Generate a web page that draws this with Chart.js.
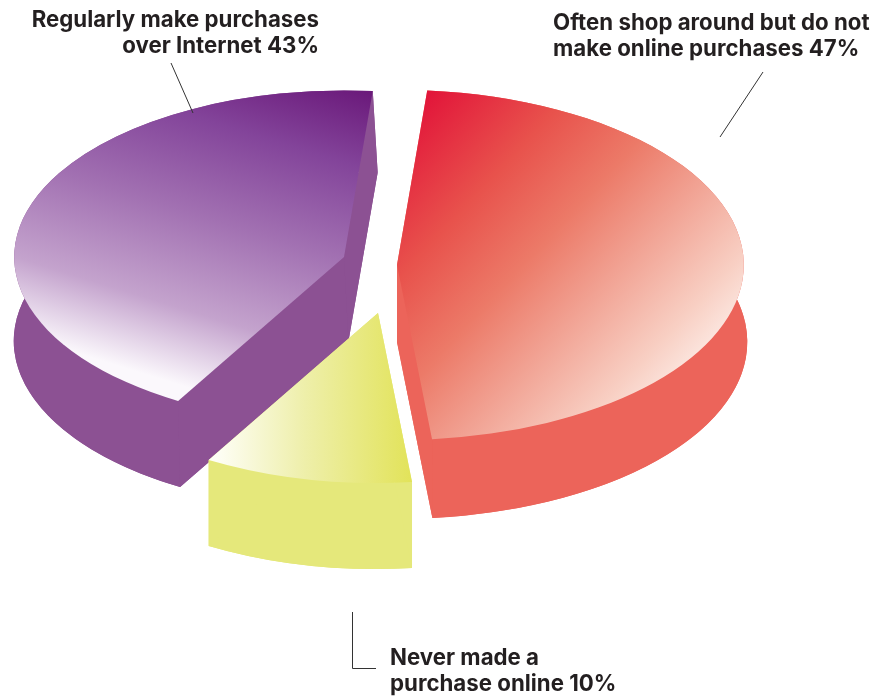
<!DOCTYPE html>
<html>
<head>
<meta charset="utf-8">
<script src="https://cdn.jsdelivr.net/npm/chart.js@4.4.0/dist/chart.umd.min.js"></script>
<style>
  html, body { margin: 0; padding: 0; background: #ffffff; }
  canvas { display: block; }
</style>
</head>
<body>
<canvas id="chart" width="885" height="696"></canvas>
<script>
// ---- data ----
const categories = [
  'Often shop around but do not make online purchases',
  'Never made a purchase online',
  'Regularly make purchases over Internet'
];
const shares = [47, 10, 43];
// label text broken into lines; the share is appended to the last line
const labelLines = [
  ['Often shop around but do not', 'make online purchases'],
  ['Never made a', 'purchase online'],
  ['Regularly make purchases', 'over Internet']
];
const sliceColors = ['#ec645a', '#e5e87b', '#8c5193'];

// ---- look of the tilted, extruded pie ----
// explode: shift of each slice, scale: size of its top,
// wall: extrusion vector [dx, dy, bottom scale]
// gradient points are in pie-radius units relative to the slice tip
const pieStyle = {
  tilt: 0.505,
  lift: -85,
  slices: [
    { explode: [4, 2], scale: 1.02, wall: [0, 77, 1.01], wallColor: '#ec645a',
      gradient: { from: [0.08, -0.95], to: [0.95, 0.66],
        stops: [[0, '#e2163a'], [0.25, '#e8524c'], [0.45, '#ec7a68'], [0.62, '#f1a192'], [0.82, '#f8cfc3'], [1, '#fffbf9']] } },
    { explode: [-15, 50], scale: 0.99, wall: [0, 86, 1.0], wallColor: '#e5e87b',
      gradient: { from: [-0.48, 0.92], to: [0.10, 0.92],
        stops: [[0, '#fefef6'], [0.45, '#eeefaa'], [1, '#e2e35a']] } },
    { explode: [-49, -6], scale: 0.97, wall: [4.5, 84, 1.015], wallColor: '#8c5193',
      gradient: { from: [0.05, -1.0], to: [-0.25, 0.92],
        stops: [[0, '#6b1a7b'], [0.22, '#83449a'], [0.5, '#a271b2'], [0.78, '#c4a3cd'], [1, '#fbf8fc']] } }
  ]
};

const labelStyle = {
  family: 'Inter, "Open Sans", sans-serif',
  weight: 700,
  color: '#231f20',
  lineHeight: 26,
  leaderColor: '#333333',
  items: [
    { x: 553, y: 30, align: 'left', width: 324, leader: [[763, 72], [720, 137]] },
    { x: 390, y: 665, align: 'left', width: 148, leader: [[352.5, 612], [352.5, 668.5], [376, 668.5]] },
    { x: 319, y: 27, align: 'right', width: 281, leader: [[171, 63], [193, 113]] }
  ]
};

// ---- helpers ----
function sliceMaps(arc, i) {
  const s = pieStyle.slices[i];
  const R = arc.outerRadius;
  const top = {
    ox: arc.x, oy: arc.y,
    tx: arc.x + s.explode[0], ty: arc.y + pieStyle.lift + s.explode[1],
    sx: s.scale, sy: s.scale * pieStyle.tilt
  };
  const k = s.wall[2];
  const bottom = Object.assign({}, top, {
    tx: top.tx + s.wall[0], ty: top.ty + s.wall[1], sx: top.sx * k, sy: top.sy * k
  });
  return { top, bottom, R };
}

function withMap(ctx, m, fn) {
  ctx.save();
  ctx.translate(m.tx, m.ty);
  ctx.scale(m.sx, m.sy);
  ctx.translate(-m.ox, -m.oy);
  fn();
  ctx.restore();
}

function mapPoint(m, u, v) {
  return [m.tx + m.sx * u, m.ty + m.sy * v];
}

// draws the slices as a tilted 3D pie from the arc elements Chart.js laid out
const pie3d = {
  id: 'pie3d',
  beforeDatasetsDraw(chart) {
    const ctx = chart.ctx;
    const meta = chart.getDatasetMeta(0);
    const arcs = meta.data.map((arc, i) => {
      const { top, bottom, R } = sliceMaps(arc, i);
      const mid = (arc.startAngle + arc.endAngle) / 2;
      const depthKey = top.ty + top.sy * 0.5 * R * Math.sin(mid);
      return { arc, i, top, bottom, R, depthKey };
    }).sort((p, q) => p.depthKey - q.depthKey);

    for (const { arc, i, top, bottom, R } of arcs) {
      const st = pieStyle.slices[i];
      const a = arc.startAngle, b = arc.endAngle;
      const cx = arc.x, cy = arc.y;

      // side walls: bottom face, outer rim band and both radial cut faces
      ctx.save();
      ctx.fillStyle = st.wallColor;
      ctx.beginPath();
      withMap(ctx, bottom, () => {
        ctx.moveTo(cx, cy);
        ctx.arc(cx, cy, R, a, b);
        ctx.closePath();
      });
      ctx.fill();

      ctx.beginPath();
      withMap(ctx, top, () => ctx.arc(cx, cy, R, a, b));
      withMap(ctx, bottom, () => ctx.arc(cx, cy, R, b, a, true));
      ctx.closePath();
      ctx.fill();

      for (const ang of [a, b]) {
        const u = R * Math.cos(ang), v = R * Math.sin(ang);
        const p1 = mapPoint(top, 0, 0), p2 = mapPoint(top, u, v);
        const p3 = mapPoint(bottom, u, v), p4 = mapPoint(bottom, 0, 0);
        ctx.beginPath();
        ctx.moveTo(p1[0], p1[1]);
        ctx.lineTo(p2[0], p2[1]);
        ctx.lineTo(p3[0], p3[1]);
        ctx.lineTo(p4[0], p4[1]);
        ctx.closePath();
        ctx.fill();
      }

      // top face with its gradient
      const g = st.gradient;
      const g0 = mapPoint(top, g.from[0] * R, g.from[1] * R);
      const g1 = mapPoint(top, g.to[0] * R, g.to[1] * R);
      const grad = ctx.createLinearGradient(g0[0], g0[1], g1[0], g1[1]);
      g.stops.forEach(([o, c]) => grad.addColorStop(o, c));
      ctx.fillStyle = grad;
      ctx.beginPath();
      withMap(ctx, top, () => {
        ctx.moveTo(cx, cy);
        ctx.arc(cx, cy, R, a, b);
        ctx.closePath();
      });
      ctx.fill();
      ctx.restore();
    }
    return false;
  }
};

// category labels with their leader lines
const sliceLabels = {
  id: 'sliceLabels',
  afterDraw(chart) {
    const ctx = chart.ctx;
    const values = chart.data.datasets[0].data;
    const st = labelStyle;
    ctx.save();
    // one common font size, fitted to the widths of the first lines
    ctx.font = `${st.weight} 20px ${st.family}`;
    let measured = 0, target = 0;
    st.items.forEach((it, i) => {
      measured += ctx.measureText(labelLines[i][0]).width;
      target += it.width;
    });
    const size = 20 * target / measured;
    ctx.font = `${st.weight} ${size.toFixed(2)}px ${st.family}`;
    ctx.fillStyle = st.color;
    ctx.textBaseline = 'alphabetic';
    st.items.forEach((it, i) => {
      const lines = labelLines[i].slice();
      lines[lines.length - 1] += ' ' + values[i] + '%';
      ctx.textAlign = it.align;
      lines.forEach((line, k) => ctx.fillText(line, it.x, it.y + k * st.lineHeight));

      ctx.strokeStyle = st.leaderColor;
      ctx.lineWidth = 1;
      ctx.beginPath();
      it.leader.forEach(([x, y], k) => (k ? ctx.lineTo(x, y) : ctx.moveTo(x, y)));
      ctx.stroke();
    });
    ctx.restore();
  }
};

new Chart(document.getElementById('chart'), {
  type: 'pie',
  data: {
    labels: categories,
    datasets: [{ data: shares, backgroundColor: sliceColors, borderWidth: 0 }]
  },
  options: {
    responsive: false,
    animation: false,
    devicePixelRatio: 1,
    rotation: 5,
    layout: { padding: { left: 53, right: 152, top: 8, bottom: 8 } },
    plugins: {
      legend: { display: false },
      tooltip: { enabled: false }
    }
  },
  plugins: [pie3d, sliceLabels]
});
</script>
</body>
</html>
